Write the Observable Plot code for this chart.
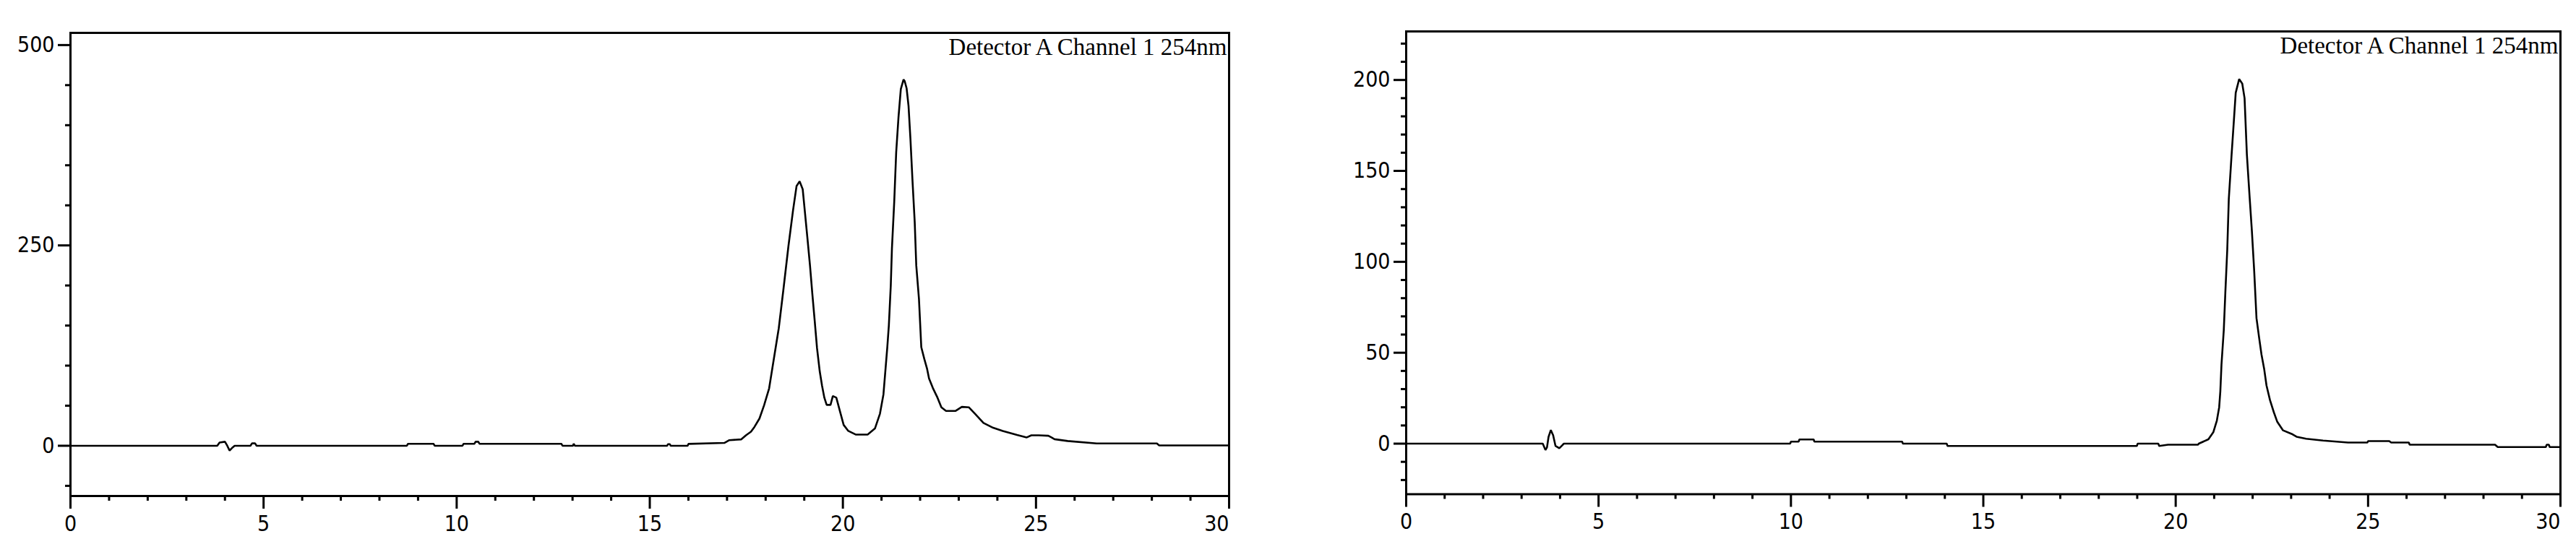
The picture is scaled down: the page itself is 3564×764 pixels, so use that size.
<!DOCTYPE html>
<html>
<head>
<meta charset="utf-8">
<script src="https://cdn.jsdelivr.net/npm/d3@7"></script>
<script src="https://cdn.jsdelivr.net/npm/@observablehq/plot@0.6"></script>
<style>
  html, body { margin: 0; padding: 0; background: #fff; }
  #wrap { display: flex; width: 3564px; height: 764px; overflow: hidden; }
  #wrap svg { display: block; }
</style>
</head>
<body>
<div id="wrap"></div>
<script>
// ---------- data ----------
const titleText = "Detector A Channel 1 254nm";

const xMajorTicks = [0, 5, 10, 15, 20, 25, 30];
const xMinorTicks = [1,2,3,4,6,7,8,9,11,12,13,14,16,17,18,19,21,22,23,24,26,27,28,29];

const leftYMajorTicks = [0, 250, 500];
const leftYMinorTicks = [-50, 50, 100, 150, 200, 300, 350, 400, 450];
const leftYDomain = [-62.7, 515.2];

const rightYMajorTicks = [0, 50, 100, 150, 200];
const rightYMinorTicks = [-20, -10, 10, 20, 30, 40, 60, 70, 80, 90, 110, 120, 130, 140, 160, 170, 180, 190, 210, 220];
const rightYDomain = [-27.8, 226.7];

// left chromatogram: retention time (min) and signal
const leftTime = [
  0, 3.80, 3.86, 4.00, 4.06, 4.12, 4.20, 4.25, 4.66, 4.70, 4.78, 4.82,
  8.71, 8.74, 9.40, 9.43, 10.15, 10.18, 10.46, 10.49, 10.56, 10.59, 12.71, 12.74,
  13.01, 13.03, 13.06, 15.45, 15.47, 15.52, 15.54, 15.98, 16.00, 16.93, 17.06, 17.37,
  17.49, 17.62, 17.71, 17.84, 17.96, 18.09, 18.21, 18.34, 18.46, 18.59, 18.71, 18.80,
  18.88, 18.96, 19.02, 19.08, 19.15, 19.21, 19.27, 19.33, 19.40, 19.46, 19.52, 19.58,
  19.68, 19.74, 19.83, 19.93, 20.02, 20.14, 20.33, 20.64, 20.83, 20.96, 21.05, 21.15,
  21.19, 21.24, 21.27, 21.33, 21.38, 21.44, 21.50, 21.57, 21.60, 21.65, 21.70, 21.75,
  21.80, 21.86, 21.90, 21.97, 22.03, 22.11, 22.18, 22.23, 22.33, 22.45, 22.55, 22.67,
  22.92, 23.08, 23.26, 23.42, 23.64, 23.89, 24.14, 24.51, 24.76, 24.88, 25.07, 25.32,
  25.40, 25.48, 25.82, 26.57, 28.13, 28.19, 30
];
const leftSignal = [
  0, 0, 4, 5, 0, -6, -2, 0, 0, 3, 3, 0,
  0, 2.5, 2.5, 0, 0, 2.5, 2.5, 5, 5, 2.5, 2.5, 0,
  0, 2.5, 0, 0, 2, 2, 0, 0, 2.3, 3.5, 7, 8,
  13, 17.5, 23.5, 34, 50.6, 71.6, 107.7, 146.7, 194.9, 249, 294, 324,
  330, 320, 290, 260, 224, 189, 156, 122, 93, 75, 60, 51,
  51, 62, 60, 42, 26, 18.5, 14, 14, 21.5, 40, 64, 123,
  150, 200, 246, 305, 366, 410, 445, 457, 455, 446, 424, 382,
  333, 279, 225, 183, 123, 108, 96, 84, 72, 60, 48, 43.5,
  43.5, 48.5, 48, 40, 28.4, 22.4, 18.5, 13.4, 10.4, 13, 13, 12.5,
  10.4, 8.2, 5.9, 2.9, 2.9, 0.4, 0.4
];

// right chromatogram: retention time (min) and signal
const rightTime = [
  0, 3.55, 3.62, 3.66, 3.70, 3.76, 3.82, 3.88, 3.98, 4.07, 4.10,
  9.98, 10.00, 10.20, 10.22, 10.59, 10.61, 12.89, 12.91, 14.05, 14.07,
  18.99, 19.01, 19.55, 19.57, 19.80, 20.58, 20.60, 20.85, 20.98, 21.07, 21.13,
  21.16, 21.19, 21.25, 21.29, 21.34, 21.38, 21.45, 21.51, 21.56, 21.65, 21.73,
  21.79, 21.85, 21.92, 21.98, 22.04, 22.10, 22.17, 22.23, 22.30, 22.36, 22.45,
  22.55, 22.64, 22.79, 23.01, 23.14, 23.39, 23.83, 24.48, 24.98, 25.00, 25.55,
  25.60, 26.06, 26.08, 28.30, 28.37, 29.62, 29.64, 29.70, 29.72, 30
];
const rightSignal = [
  0, 0, -3.5, -2, 3.7, 7.5, 4.6, -1.2, -2.5, -0.6, 0,
  0, 1.1, 1.1, 2.3, 2.3, 1.1, 1.1, 0, 0, -1.3,
  -1.3, 0, 0, -1.3, -0.6, -0.6, 0, 2.4, 6.4, 12.7, 20,
  28.8, 43.5, 62.5, 83, 106.6, 134.5, 158, 177, 193, 200.5, 198,
  190, 159, 136, 117, 95, 69, 58, 49, 41, 32, 24,
  17.3, 12, 7.3, 5.4, 3.8, 2.7, 1.7, 0.6, 0.6, 1.4, 1.4,
  0.6, 0.6, -0.6, -0.6, -1.9, -1.9, -0.6, -0.6, -1.9, -1.9
];

// ---------- drawing ----------
const tickFont = "'DejaVu Sans Condensed', 'DejaVu Sans', sans-serif";
const titleFont = "'Liberation Serif', 'DejaVu Serif', serif";

function chromatogram({time, signal, yDomain, yMajor, yMinor, margin}) {
  const rows = time.map((t, i) => ({t, v: signal[i]}));
  return Plot.plot({
    width: 1782,
    height: 764,
    marginLeft: margin.left,
    marginRight: margin.right,
    marginTop: margin.top,
    marginBottom: margin.bottom,
    style: {fontFamily: tickFont, fontSize: "30px", color: "black", background: "white", overflow: "visible"},
    x: {domain: [0, 30], label: null},
    y: {domain: yDomain, label: null},
    marks: [
      Plot.axisY({ticks: yMajor, tickSize: 17, tickPadding: 5, strokeWidth: 3, tickFormat: d => String(d), fontSize: 30, fill: "black", label: null}),
      Plot.axisY({ticks: yMinor, tickSize: 7, strokeWidth: 3, tickFormat: () => "", label: null}),
      Plot.axisX({ticks: xMajorTicks.filter(d => d < 30), tickSize: 18, tickPadding: 9, strokeWidth: 3, tickFormat: d => String(d), fontSize: 30, fill: "black", label: null}),
      Plot.axisX({ticks: [30], tickSize: 18, tickPadding: 9, strokeWidth: 3, tickFormat: d => String(d), textAnchor: "end", dx: 0, fontSize: 30, fill: "black", label: null}),
      Plot.axisX({ticks: xMinorTicks, tickSize: 7, strokeWidth: 3, tickFormat: () => "", label: null}),
      Plot.line(rows, {x: "t", y: "v", stroke: "black", strokeWidth: 2.6, strokeLinejoin: "miter"}),
      Plot.frame({stroke: "black", strokeWidth: 3}),
      Plot.text([titleText], {text: d => d, frameAnchor: "top-right", textAnchor: "end", lineAnchor: "bottom", dx: -3, dy: 30, fontFamily: titleFont, fontSize: 33, fill: "black"})
    ]
  });
}

const wrap = document.getElementById("wrap");
wrap.append(chromatogram({
  time: leftTime, signal: leftSignal, yDomain: leftYDomain,
  yMajor: leftYMajorTicks, yMinor: leftYMinorTicks,
  margin: {left: 97, right: 82, top: 45, bottom: 78}
}));
wrap.append(chromatogram({
  time: rightTime, signal: rightSignal, yDomain: rightYDomain,
  yMajor: rightYMajorTicks, yMinor: rightYMinorTicks,
  margin: {left: 163, right: 22, top: 43, bottom: 80.5}
}));
</script>
</body>
</html>
